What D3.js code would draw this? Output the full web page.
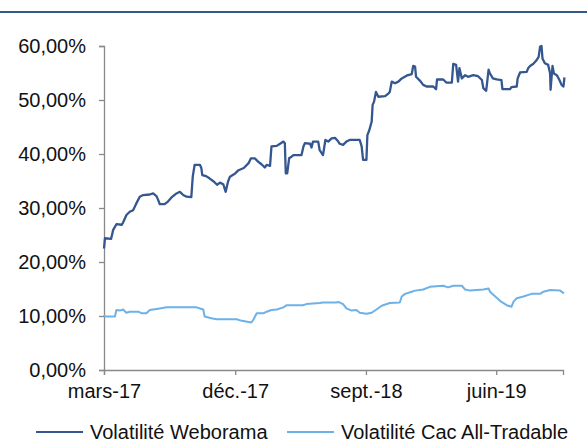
<!DOCTYPE html>
<html>
<head>
<meta charset="utf-8">
<script src="https://cdn.jsdelivr.net/npm/d3@7"></script>
<style>
  body { margin: 0; background: #fff; }
  svg { display: block; font-family: "Liberation Sans", Arial, sans-serif; }
</style>
</head>
<body>
<svg id="chart" width="587" height="442"></svg>
<script>
// Volatilité Weborama (en %)
const weboDates = ['2017-03-01','2017-03-03','2017-03-16','2017-03-20','2017-03-27','2017-04-07','2017-04-10','2017-04-17','2017-04-24','2017-05-01','2017-05-08','2017-05-15','2017-05-22','2017-06-05','2017-06-12','2017-06-19','2017-06-22','2017-06-26','2017-07-06','2017-07-13','2017-07-21','2017-07-31','2017-08-07','2017-08-14','2017-08-21','2017-08-31','2017-09-03','2017-09-07','2017-09-18','2017-09-21','2017-09-23','2017-10-01','2017-10-08','2017-10-17','2017-10-24','2017-10-30','2017-11-06','2017-11-11','2017-11-16','2017-11-20','2017-12-01','2017-12-08','2017-12-19','2017-12-29','2018-01-03','2018-01-11','2018-01-18','2018-01-25','2018-02-01','2018-02-05','2018-02-12','2018-02-15','2018-02-26','2018-03-05','2018-03-12','2018-03-15','2018-03-17','2018-03-20','2018-03-24','2018-03-29','2018-04-02','2018-04-19','2018-04-23','2018-04-26','2018-05-07','2018-05-10','2018-05-13','2018-05-24','2018-05-27','2018-06-03','2018-06-08','2018-06-14','2018-06-21','2018-06-28','2018-07-05','2018-07-08','2018-07-15','2018-07-22','2018-07-29','2018-08-19','2018-08-23','2018-08-26','2018-09-02','2018-09-04','2018-09-08','2018-09-13','2018-09-15','2018-09-18','2018-09-22','2018-09-27','2018-10-11','2018-10-18','2018-10-21','2018-10-25','2018-11-01','2018-11-08','2018-11-15','2018-11-25','2018-12-06','2018-12-09','2018-12-13','2018-12-15','2018-12-23','2018-12-30','2019-01-06','2019-01-20','2019-01-26','2019-01-28','2019-02-10','2019-02-17','2019-02-28','2019-03-03','2019-03-09','2019-03-13','2019-03-16','2019-03-21','2019-03-28','2019-04-03','2019-04-14','2019-04-24','2019-05-02','2019-05-05','2019-05-11','2019-05-16','2019-05-19','2019-05-25','2019-06-02','2019-06-12','2019-06-14','2019-06-30','2019-07-03','2019-07-14','2019-07-16','2019-07-21','2019-08-04','2019-08-07','2019-08-11','2019-08-18','2019-08-24','2019-08-29','2019-09-01','2019-09-04','2019-09-06','2019-09-11','2019-09-18','2019-09-22','2019-09-23','2019-09-27','2019-09-30','2019-10-06','2019-10-11','2019-10-16','2019-10-20','2019-10-22'];
const weboValues = [22.5,24.4,24.3,25.9,27.0,26.9,27.3,28.7,29.3,29.6,30.9,32.1,32.4,32.5,32.7,32.2,31.6,30.7,30.7,31.2,32.0,32.7,33.0,32.4,32.1,32.0,35.8,38.0,38.0,37.4,36.1,35.9,35.5,34.9,34.3,34.7,34.4,33.0,34.9,35.8,36.4,37.0,37.4,38.3,39.2,39.2,38.6,38.1,37.5,38.0,37.8,41.4,41.5,41.9,42.3,42.0,36.4,36.4,39.2,39.5,39.8,39.8,41.4,42.0,41.9,41.2,42.3,42.3,40.7,39.8,42.6,42.3,42.9,43.0,42.3,41.9,41.7,42.3,42.6,42.6,41.4,38.9,38.9,43.5,44.4,46.0,49.1,49.7,51.5,50.6,50.7,51.2,51.5,53.4,53.1,53.4,54.0,54.5,54.8,56.3,56.2,54.3,53.6,52.8,52.5,52.5,52.0,53.8,53.8,53.2,53.2,56.7,56.5,53.4,55.9,54.0,54.6,54.3,54.6,54.4,53.7,52.2,51.7,55.6,54.9,54.0,53.8,53.7,52.0,52.0,52.4,52.5,54.0,55.1,55.2,55.9,56.3,56.7,57.3,58.0,59.9,60.0,57.7,56.8,56.5,54.9,51.9,56.3,54.9,54.6,53.8,52.8,52.5,54.2];

// Volatilité Cac All-Tradable (en %)
const cacDates = ['2017-03-01','2017-03-03','2017-03-24','2017-03-27','2017-04-03','2017-04-10','2017-04-17','2017-04-24','2017-05-12','2017-05-19','2017-05-29','2017-06-05','2017-06-26','2017-07-10','2017-09-11','2017-09-25','2017-09-28','2017-10-12','2017-10-23','2017-12-04','2017-12-15','2017-12-29','2018-01-04','2018-01-08','2018-01-15','2018-01-29','2018-02-05','2018-02-15','2018-02-26','2018-03-12','2018-03-19','2018-04-22','2018-04-29','2018-05-27','2018-06-03','2018-07-01','2018-07-05','2018-07-15','2018-07-22','2018-08-02','2018-08-12','2018-08-19','2018-09-02','2018-09-13','2018-09-23','2018-10-04','2018-10-21','2018-11-11','2018-11-15','2018-11-22','2018-12-06','2018-12-13','2018-12-30','2019-01-13','2019-02-10','2019-02-20','2019-03-03','2019-03-21','2019-03-28','2019-04-07','2019-04-21','2019-05-05','2019-05-16','2019-05-19','2019-05-30','2019-06-12','2019-06-23','2019-07-03','2019-07-07','2019-07-14','2019-07-28','2019-08-14','2019-09-01','2019-09-08','2019-09-22','2019-10-13','2019-10-21'];
const cacValues = [10.2,9.9,9.9,11.1,11.0,11.2,10.6,10.8,10.8,10.5,10.5,11.1,11.4,11.6,11.6,11.2,9.9,9.6,9.4,9.4,9.1,8.9,8.8,9.3,10.5,10.5,10.8,11.1,11.2,11.6,12.0,12.0,12.2,12.4,12.5,12.5,12.6,12.2,11.4,11.0,11.1,10.6,10.4,10.6,11.2,11.9,12.4,12.5,13.6,14.1,14.5,14.7,14.9,15.4,15.6,15.3,15.6,15.6,14.9,14.7,14.8,14.9,15.1,14.5,13.6,12.6,12.0,11.7,12.6,13.3,13.6,14.1,14.1,14.5,14.8,14.7,14.2];

const xTickDates = ['2017-03-01','2017-12-01','2018-09-01','2019-06-01'];
const xTickLabels = ['mars-17','déc.-17','sept.-18','juin-19'];
const yTicks = [0, 10, 20, 30, 40, 50, 60];
const seriesNames = ['Volatilité Weborama', 'Volatilité Cac All-Tradable'];

const parse = d3.utcParse('%Y-%m-%d');
const frLocale = d3.formatLocale({ decimal: ',', thousands: ' ', grouping: [3], currency: ['', ' €'] });
const fmtPct = frLocale.format('.2f');

const svg = d3.select('#chart');
const mLeft = 104, mRight = 563, mTop = 46, mBottom = 370;

const x = d3.scaleUtc()
  .domain([parse('2017-03-01'), parse('2019-10-19')])
  .range([mLeft, mRight]);
const y = d3.scaleLinear().domain([0, 60]).range([mBottom, mTop]);

// filet en haut
svg.append('line')
  .attr('x1', 0).attr('x2', 587).attr('y1', 12).attr('y2', 12)
  .attr('stroke', '#36578c').attr('stroke-width', 2);

const axisColor = '#898989';

const yAxis = svg.append('g')
  .attr('transform', `translate(${mLeft},0)`)
  .call(d3.axisLeft(y).tickValues(yTicks).tickSize(5).tickPadding(13).tickFormat(d => `${fmtPct(d)}%`));
yAxis.select('.domain').attr('stroke', axisColor).attr('stroke-width', 1.3);
yAxis.selectAll('.tick line').attr('stroke', axisColor).attr('stroke-width', 1.3);
yAxis.selectAll('text').attr('fill', '#111').style('font-size', '20px').style('font-family', '"Liberation Sans", Arial, sans-serif');

const xAxis = svg.append('g')
  .attr('transform', `translate(0,${mBottom})`)
  .call(d3.axisBottom(x).tickValues(xTickDates.map(parse)).tickSize(5).tickPadding(9)
    .tickFormat((d, i) => xTickLabels[i]));
xAxis.select('.domain').attr('stroke', axisColor).attr('stroke-width', 1.3);
xAxis.selectAll('.tick line').attr('stroke', axisColor).attr('stroke-width', 1.3);
xAxis.selectAll('text').attr('fill', '#111').style('font-size', '20px').style('font-family', '"Liberation Sans", Arial, sans-serif');

const line = d3.line()
  .x(d => x(d[0]))
  .y(d => y(d[1]));

const cacData = cacDates.map((d, i) => [parse(d), cacValues[i]]);
const weboData = weboDates.map((d, i) => [parse(d), weboValues[i]]);

svg.append('path')
  .datum(cacData)
  .attr('d', line)
  .attr('fill', 'none')
  .attr('stroke', '#6eb1e7')
  .attr('stroke-width', 2)
  .attr('stroke-linejoin', 'round');

svg.append('path')
  .datum(weboData)
  .attr('d', line)
  .attr('fill', 'none')
  .attr('stroke', '#34578f')
  .attr('stroke-width', 2.3)
  .attr('stroke-linejoin', 'round');

// légende
const legend = [
  { name: seriesNames[0], color: '#34578f', x0: 36 },
  { name: seriesNames[1], color: '#6eb1e7', x0: 287 }
];
const lg = svg.append('g').selectAll('g').data(legend).enter().append('g')
  .attr('transform', d => `translate(${d.x0},432)`);
lg.append('line')
  .attr('x1', 0).attr('x2', 47).attr('y1', 0).attr('y2', 0)
  .attr('stroke', d => d.color).attr('stroke-width', 2);
lg.append('text')
  .attr('x', 54).attr('y', 7)
  .attr('fill', '#111')
  .style('font-size', '20px')
  .text(d => d.name);
</script>
</body>
</html>
